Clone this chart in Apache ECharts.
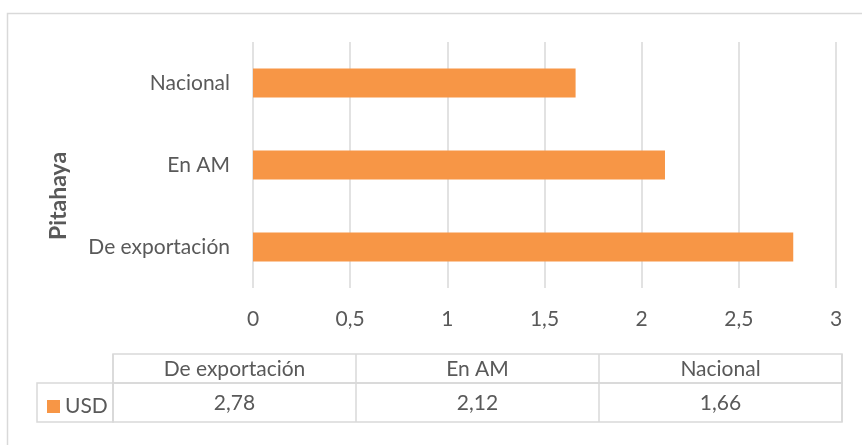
<!DOCTYPE html>
<html><head><meta charset="utf-8">
<script src="https://cdn.jsdelivr.net/npm/echarts@6/dist/echarts.min.js"></script>
<style>html,body{margin:0;padding:0;background:#fff}#c{width:862px;height:445px}</style>
</head><body><div id="c"></div>
<script>
const categories = ['De exportación', 'En AM', 'Nacional'];
const usd = [2.78, 2.12, 1.66];
const seriesName = 'USD';
const groupName = 'Pitahaya';
const xTicks = [0, 0.5, 1, 1.5, 2, 2.5, 3];

const FONT = 'Lato';
const TXT = '#595959';
const LINE = '#d9d9d9';
const ORANGE = '#F79646';
const FS = 21;
const fmt = v => String(v).replace('.', ',');

const chart = echarts.init(document.getElementById('c'));
chart.setOption({
  animation: false,
  textStyle: { fontFamily: FONT, color: TXT },
  graphic: [{
    type: 'rect', shape: { x: 7.5, y: 13.5, width: 900, height: 500 },
    style: { fill: 'none', stroke: LINE, lineWidth: 1.5 }, silent: true
  }],
  legend: {
    data: [seriesName], left: 42, top: 391, itemWidth: 13, itemHeight: 13, itemGap: 4,
    icon: 'rect', textStyle: { fontFamily: FONT, fontSize: FS, color: TXT }
  },
  grid: [
    { left: 253, right: 26, top: 42, bottom: 157 },
    { left: 113, right: 20, top: 354, height: 29, show: true, borderColor: LINE, borderWidth: 1.5 },
    { left: 113, right: 20, top: 383, height: 39, show: true, borderColor: LINE, borderWidth: 1.5 },
    { left: 37, width: 76, top: 383, height: 39, show: true, borderColor: LINE, borderWidth: 1.5 }
  ],
  xAxis: [
    { gridIndex: 0, type: 'value', min: xTicks[0], max: xTicks[xTicks.length - 1], interval: 0.5,
      axisLine: { show: false }, axisTick: { show: false },
      splitLine: { lineStyle: { color: LINE, width: 1.5 } },
      axisLabel: { margin: 21, fontSize: FS, color: TXT, formatter: v => fmt(v) } },
    { gridIndex: 1, type: 'category', data: categories, position: 'bottom',
      axisLine: { show: false }, axisTick: { show: false },
      splitLine: { show: true, interval: 0, lineStyle: { color: LINE, width: 1.5 } },
      axisLabel: { inside: true, margin: 3, fontSize: FS, color: TXT, verticalAlign: 'bottom' } },
    { gridIndex: 2, type: 'category', data: categories, position: 'bottom',
      axisLine: { show: false }, axisTick: { show: false },
      splitLine: { show: true, interval: 0, lineStyle: { color: LINE, width: 1.5 } },
      axisLabel: { inside: true, margin: 8, fontSize: FS, color: TXT, verticalAlign: 'bottom',
        formatter: (v, i) => fmt(usd[i]) } },
    { gridIndex: 3, type: 'value', show: false }
  ],
  yAxis: [
    { gridIndex: 0, type: 'category', data: categories,
      axisLine: { show: false }, axisTick: { show: false },
      axisLabel: { margin: 23, fontSize: FS, color: TXT },
      name: groupName, nameLocation: 'middle', nameGap: 183, nameRotate: 90,
      nameTextStyle: { fontSize: 23, fontWeight: 'bold', color: TXT, fontFamily: FONT,
        padding: [0, 62, 0, 0] } },
    { gridIndex: 1, type: 'value', show: false },
    { gridIndex: 2, type: 'value', show: false },
    { gridIndex: 3, type: 'value', show: false }
  ],
  series: [{
    name: seriesName, type: 'bar', xAxisIndex: 0, yAxisIndex: 0,
    data: usd, barWidth: 29, itemStyle: { color: ORANGE }
  }]
});
</script></body></html>
